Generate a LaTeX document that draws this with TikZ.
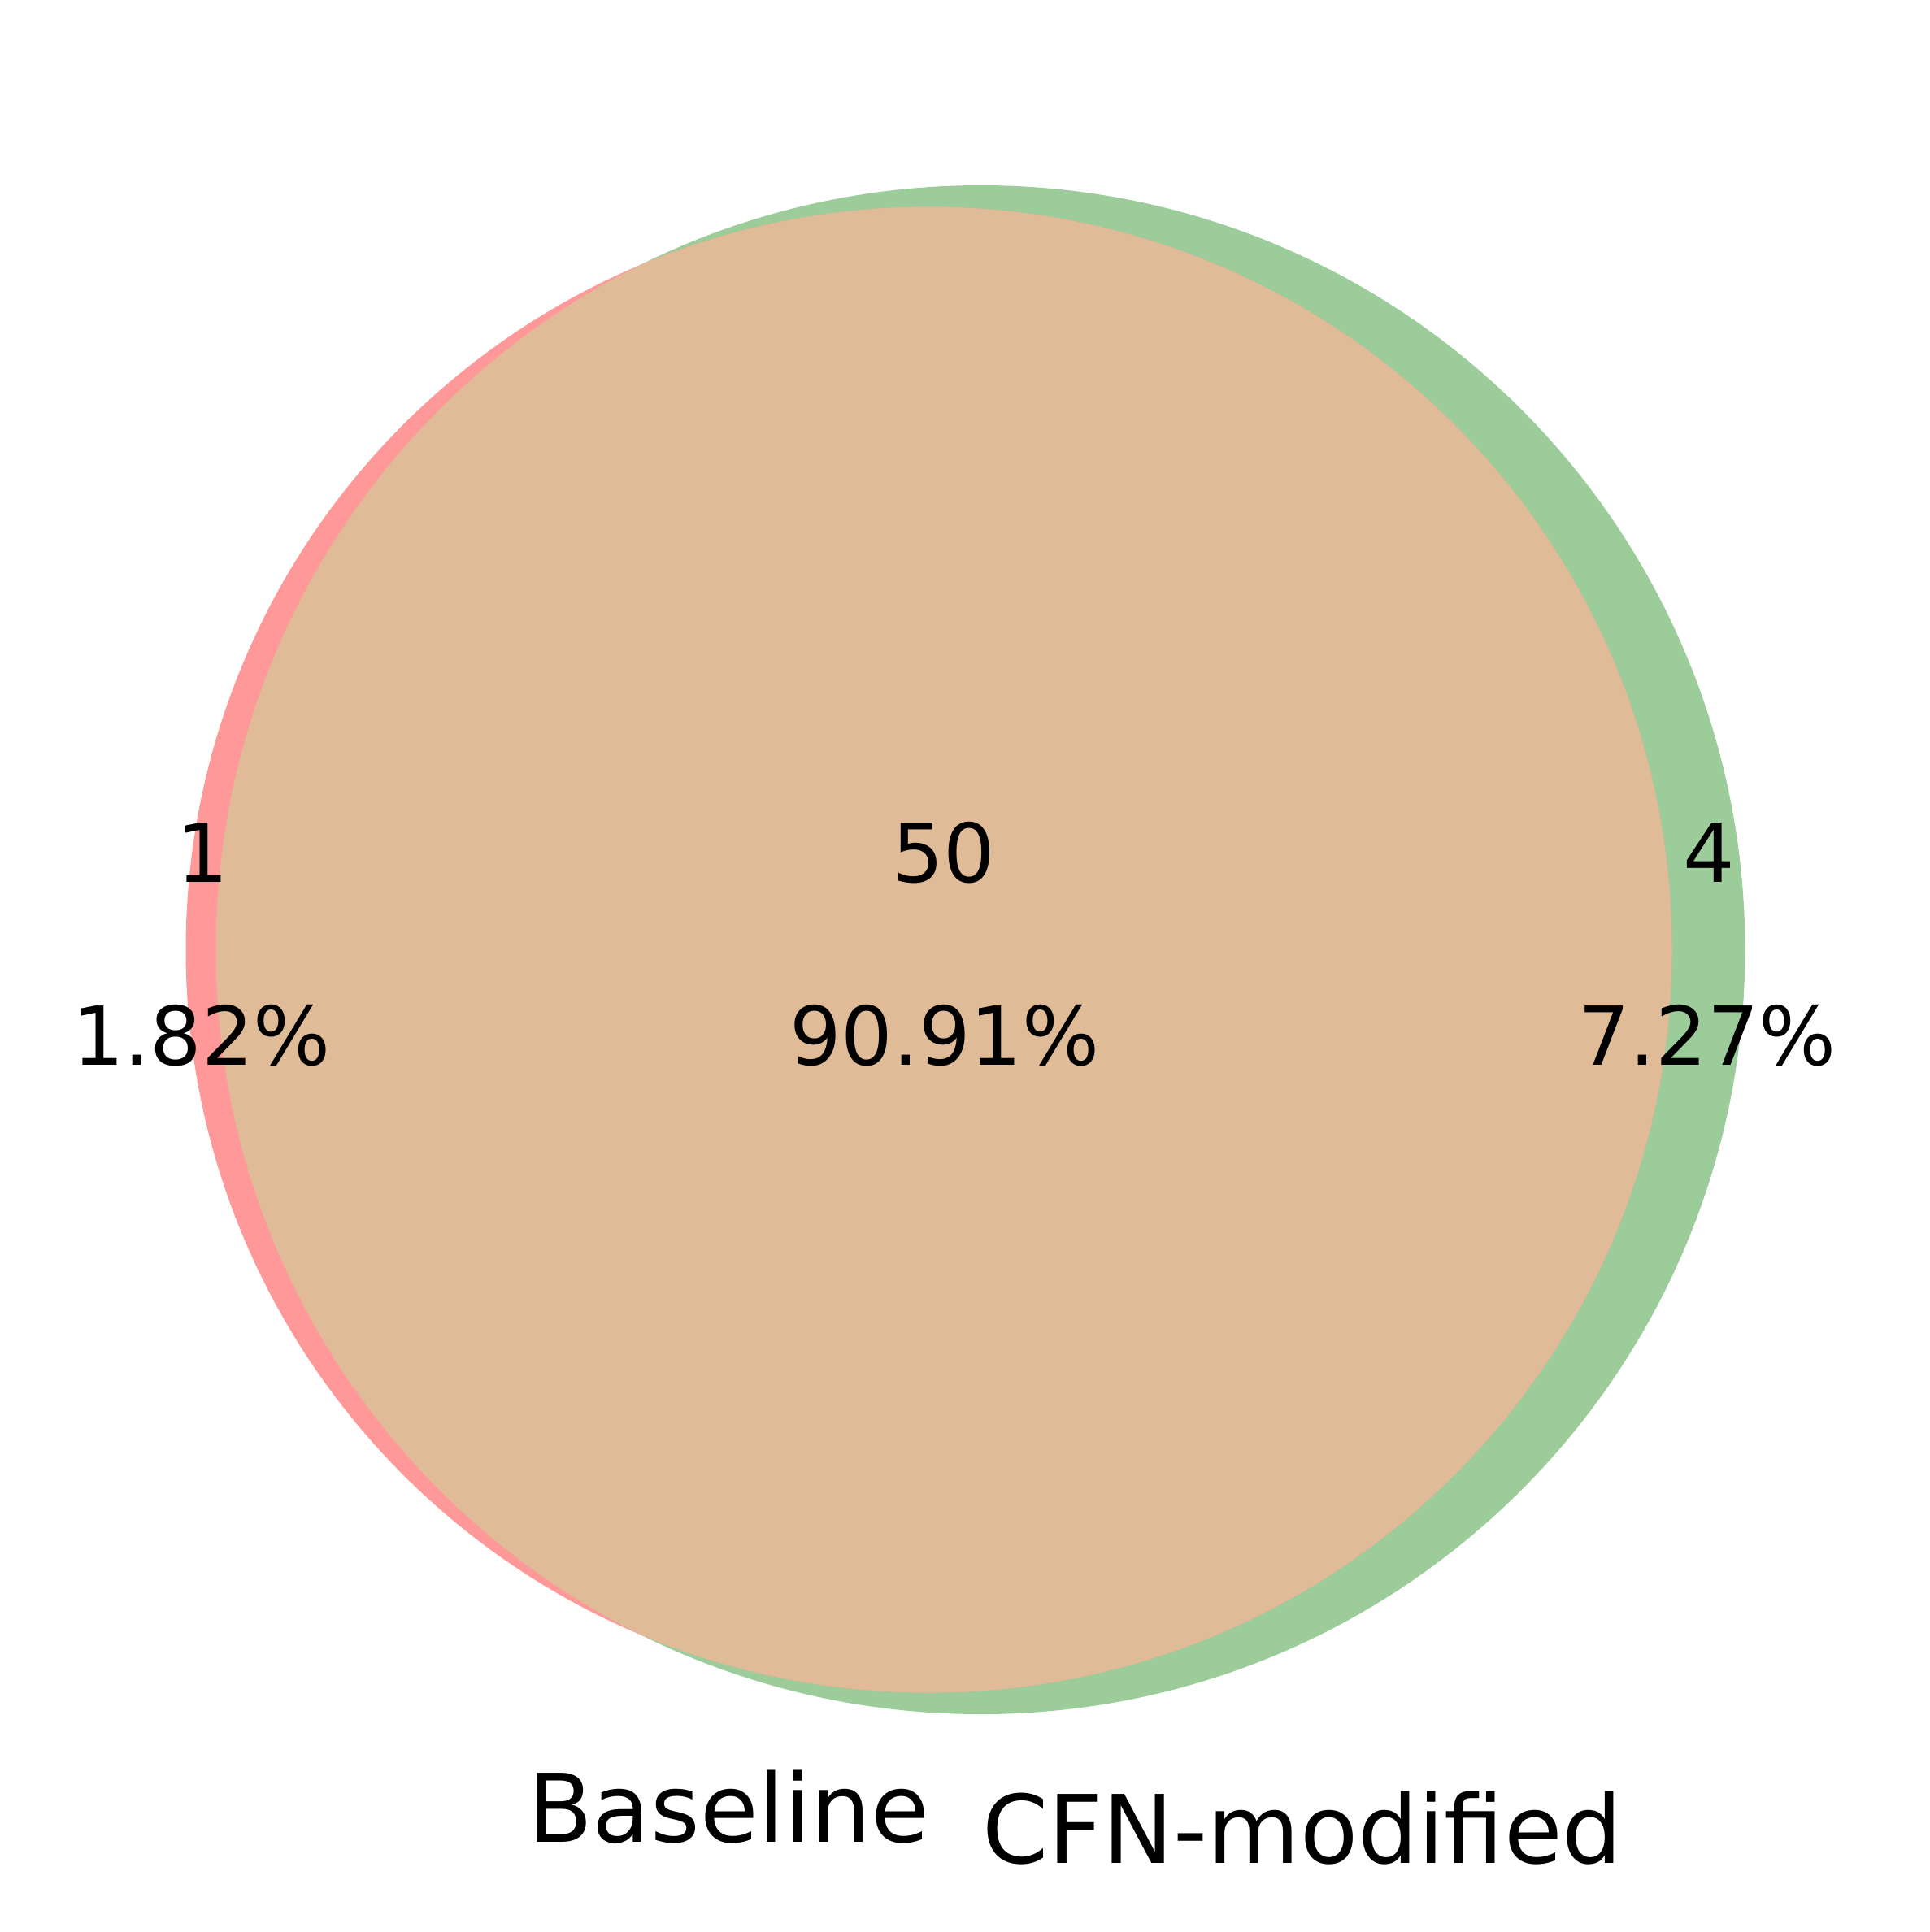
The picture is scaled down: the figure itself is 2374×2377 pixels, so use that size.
\documentclass[tikz,border=0pt]{standalone}
\usepackage{fontspec}
\setmainfont{DejaVu Sans}
\definecolor{redonly}{HTML}{FF9999}
\definecolor{greenonly}{HTML}{9BCC99}
\definecolor{both}{HTML}{E0BB98}
\tikzset{
  numtxt/.style={anchor=base, inner sep=0pt, font=\fontsize{100}{120}\selectfont},
  setlbl/.style={anchor=base, inner sep=0pt, font=\fontsize{116.5}{136}\selectfont}
}
\begin{document}
\begin{tikzpicture}[x=1pt,y=-1pt]
\useasboundingbox[fill=white] (0,0) rectangle (2374,2377);
% circles
\fill[greenonly] (1206,1168.5) circle[radius=940.5];
\fill[redonly] (1142.5,1168.5) circle[radius=914];
\begin{scope}
  \clip (1206,1168.5) circle[radius=940.5];
  \fill[both] (1142.5,1168.5) circle[radius=914];
\end{scope}
% counts
\node[numtxt] (a1) at (249,1085) {1};
\node[numtxt] (a2) at (248,1310) {1.82\%};
\node[numtxt] (b1) at (1161,1085) {50};
\node[numtxt] (b2) at (1162,1310) {90.91\%};
\node[numtxt] (c1) at (2102,1085) {4};
\node[numtxt] (c2) at (2100,1310) {7.27\%};
% set labels
\node[setlbl] (lA) at (896,2266) {Baseline};
\node[setlbl] (lB) at (1602,2292) {CFN-modified};
\end{tikzpicture}
\end{document}
